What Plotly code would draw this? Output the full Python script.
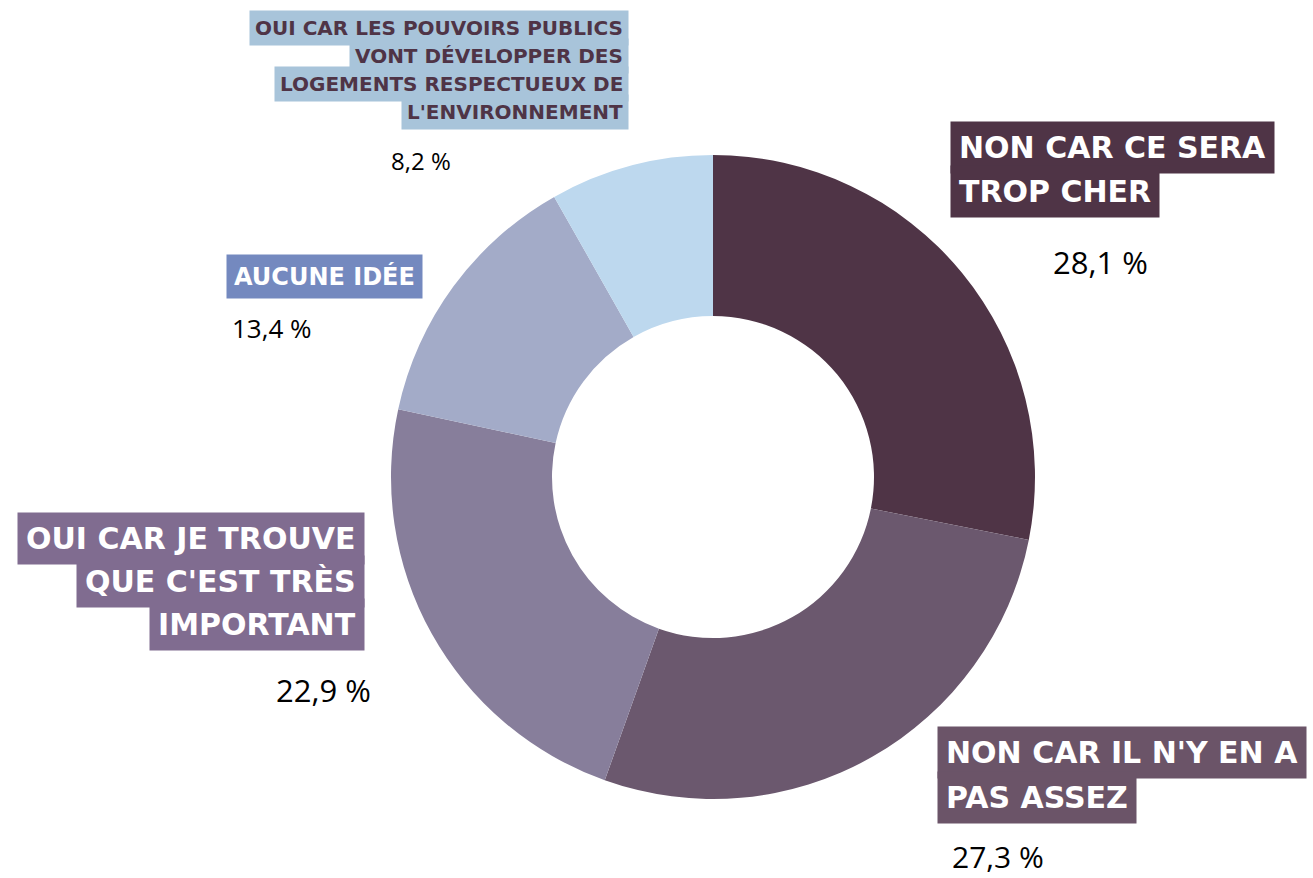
import plotly.graph_objects as go

W, H = 1313, 878

categories = ["NON CAR CE SERA TROP CHER",
              "NON CAR IL N'Y EN A PAS ASSEZ",
              "OUI CAR JE TROUVE QUE C'EST TRÈS IMPORTANT",
              "AUCUNE IDÉE",
              "OUI CAR LES POUVOIRS PUBLICS VONT DÉVELOPPER DES LOGEMENTS RESPECTUEUX DE L'ENVIRONNEMENT"]
values = [28.1, 27.3, 22.9, 13.4, 8.2]
slice_colors = ["#4F3446", "#6B586E", "#877E9B", "#A3ABC8", "#BDD8EE"]

# label lines as they are wrapped in the picture
label_lines = [
    ["NON CAR CE SERA", "TROP CHER"],
    ["NON CAR IL N'Y EN A", "PAS ASSEZ"],
    ["OUI CAR JE TROUVE", "QUE C'EST TRÈS", "IMPORTANT"],
    ["AUCUNE IDÉE"],
    ["OUI CAR LES POUVOIRS PUBLICS", "VONT DÉVELOPPER DES", "LOGEMENTS RESPECTUEUX DE", "L'ENVIRONNEMENT"],
]
pct_text = [f"{v:.1f} %".replace(".", ",") for v in values]

# style per label: box edge x, first line y, pitch, size, anchor, box colour, text colour
label_style = [
    dict(x=950, y=147, dy=44, size=30, anchor="left", bg="#4F3446", fg="white", pad=8),
    dict(x=937, y=752, dy=45, size=30, anchor="left", bg="#6B5468", fg="white", pad=8),
    dict(x=365, y=538, dy=43, size=30, anchor="right", bg="#806C90", fg="white", pad=8),
    dict(x=226, y=276, dy=0, size=24, anchor="left", bg="#7489BF", fg="white", pad=7),
    dict(x=629, y=28, dy=28, size=20, anchor="right", bg="#A8C4DA", fg="#4F3446", pad=5),
]
pct_style = [
    dict(x=1100, y=262, size=31),
    dict(x=998, y=856, size=30),
    dict(x=323, y=690, size=31),
    dict(x=272, y=328, size=26),
    dict(x=421, y=160, size=24),
]


def px(x):
    return x / W


def py(y):
    return 1 - y / H


fig = go.Figure()
fig.add_trace(go.Pie(
    labels=categories, values=values, sort=False, direction="clockwise",
    rotation=0, hole=0.5, textinfo="none", hoverinfo="label+percent",
    marker=dict(colors=slice_colors, line=dict(width=0)),
    domain=dict(x=[391 / W, 1035 / W], y=[1 - 799 / H, 1 - 155 / H]),
    showlegend=False,
))

annotations = []
for lines, st in zip(label_lines, label_style):
    for i, line in enumerate(lines):
        annotations.append(dict(
            x=px(st["x"]), y=py(st["y"] + i * st["dy"]), xref="paper", yref="paper",
            text=line, showarrow=False, xanchor=st["anchor"], yanchor="middle",
            font=dict(family="DejaVu Sans", size=st["size"], color=st["fg"], weight="bold"),
            bgcolor=st["bg"], borderpad=st["pad"],
        ))
for t, st in zip(pct_text, pct_style):
    annotations.append(dict(
        x=px(st["x"]), y=py(st["y"]), xref="paper", yref="paper",
        text=t, showarrow=False, xanchor="center", yanchor="middle",
        font=dict(family="Open Sans", size=st["size"], color="black"),
    ))

fig.update_layout(
    width=W, height=H, margin=dict(l=0, r=0, t=0, b=0),
    paper_bgcolor="white", plot_bgcolor="white",
    annotations=annotations,
)
fig.write_html("out.html", config={"displayModeBar": False},
               post_script="document.body.style.margin='0';")
